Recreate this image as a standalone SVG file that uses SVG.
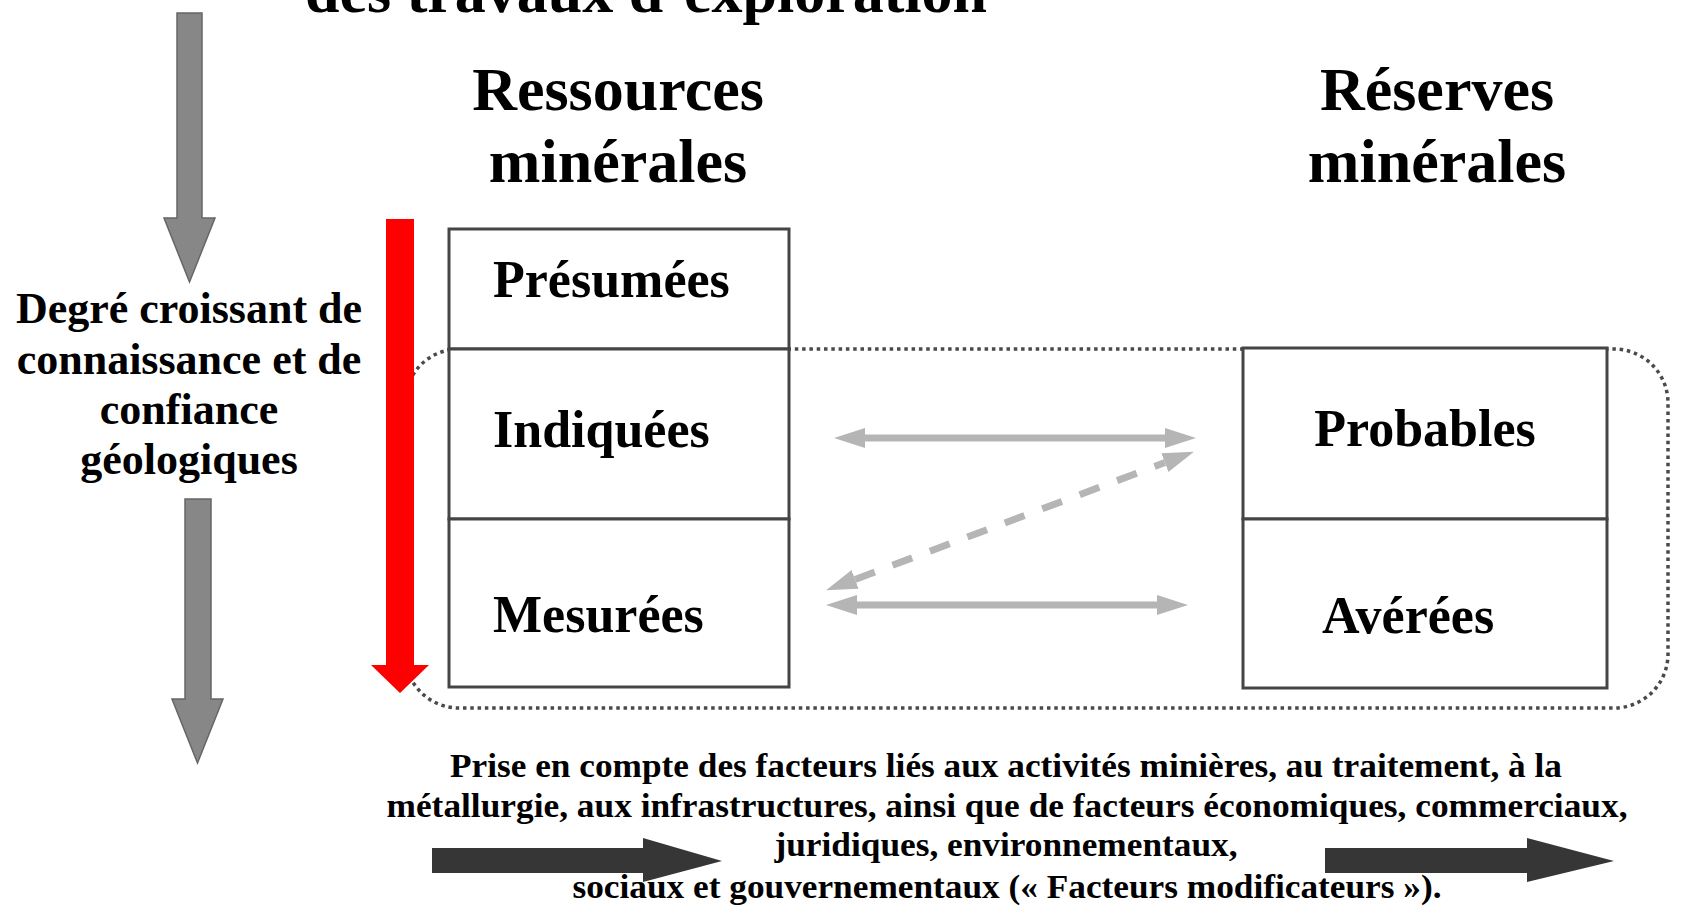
<svg xmlns="http://www.w3.org/2000/svg" width="1683" height="907" viewBox="0 0 1683 907">
<style>
.t{font-family:"Liberation Serif","Times New Roman",serif;font-weight:bold;fill:#000}
.h{font-size:62px;text-anchor:middle}
.cell{fill:#fff;stroke:#454545;stroke-width:3}
.lbl{font-size:52px}
.foot{font-size:33px;text-anchor:middle}
.side{font-size:44px;text-anchor:middle}
.garrow{fill:#878787;stroke:#666;stroke-width:1.5}
.darrow{fill:#363636}
.link{stroke:#b5b5b5;stroke-width:7;fill:none}
</style>
<defs>
<marker id="ah" markerUnits="userSpaceOnUse" markerWidth="32" markerHeight="24" refX="0" refY="12" orient="auto-start-reverse" viewBox="0 0 32 24">
<path d="M0,2 L31,12 L0,22 z" fill="#b5b5b5"/>
</marker>
</defs>
<rect width="1683" height="907" fill="#fff"/>

<g id="title">
<text class="t" x="305" y="12" font-size="62">des travaux d’exploration</text>
</g>

<g id="heading-ressources">
<text class="t h" x="618" y="110">Ressources</text>
<text class="t h" x="618" y="182">minérales</text>
</g>
<g id="heading-reserves">
<text class="t h" x="1437" y="110">Réserves</text>
<text class="t h" x="1437" y="182">minérales</text>
</g>

<g id="knowledge-axis">
<polygon class="garrow" points="177,13 202,13 202,218 215,218 189.5,282 164,218 177,218"/>
<text class="t side" x="189" y="323">Degré croissant de</text>
<text class="t side" x="189" y="374">connaissance et de</text>
<text class="t side" x="189" y="424">confiance</text>
<text class="t side" x="189" y="474">géologiques</text>
<polygon class="garrow" points="185,499 211,499 211,699 223,699 197.5,763 172,699 185,699"/>
</g>

<g id="modifying-factors-group">
<rect x="405" y="349" width="1263" height="359" rx="54" ry="54" fill="none" stroke="#4a4a4a" stroke-width="3.5" stroke-dasharray="3.5 3.8"/>
</g>

<g id="presumees">
<rect class="cell" x="449" y="229" width="340" height="120"/>
<text class="t lbl" x="493" y="297">Présumées</text>
</g>
<g id="indiquees">
<rect class="cell" x="449" y="349" width="340" height="170"/>
<text class="t lbl" x="493" y="447">Indiquées</text>
</g>
<g id="mesurees">
<rect class="cell" x="449" y="519" width="340" height="168"/>
<text class="t lbl" x="493" y="632">Mesurées</text>
</g>

<g id="probables">
<rect class="cell" x="1243" y="348" width="364" height="171"/>
<text class="t lbl" x="1425" y="446" text-anchor="middle">Probables</text>
</g>
<g id="averees">
<rect class="cell" x="1243" y="519" width="364" height="169"/>
<text class="t lbl" x="1408" y="633" text-anchor="middle">Avérées</text>
</g>

<g id="confidence-arrow">
<polygon points="386,219 414,219 414,665 429,665 400,693 371,665 386,665" fill="#ff0000"/>
</g>

<g id="connectors">
<line class="link" x1="865" y1="438" x2="1165" y2="438" marker-start="url(#ah)" marker-end="url(#ah)"/>
<line class="link" x1="857" y1="605" x2="1157" y2="605" marker-start="url(#ah)" marker-end="url(#ah)"/>
<line class="link" x1="855.1" y1="579.4" x2="1164.9" y2="462.6" stroke-dasharray="21 19" marker-start="url(#ah)" marker-end="url(#ah)"/>
</g>

<g id="modifying-factors">
<polygon class="darrow" points="432,848 643,848 643,838 722,861 643,882 643,873 432,873"/>
<text class="t foot" x="1006" y="777" textLength="1112" lengthAdjust="spacingAndGlyphs">Prise en compte des facteurs liés aux activités minières, au traitement, à la</text>
<text class="t foot" x="1007" y="817" textLength="1241" lengthAdjust="spacingAndGlyphs">métallurgie, aux infrastructures, ainsi que de facteurs économiques, commerciaux,</text>
<text class="t foot" x="1006" y="856" textLength="463" lengthAdjust="spacingAndGlyphs">juridiques, environnementaux,</text>
<text class="t foot" x="1007" y="898" textLength="869" lengthAdjust="spacingAndGlyphs">sociaux et gouvernementaux (« Facteurs modificateurs »).</text>
<polygon class="darrow" points="1325,848 1527,848 1527,838 1614,861 1527,882 1527,873 1325,873"/>
</g>
</svg>
